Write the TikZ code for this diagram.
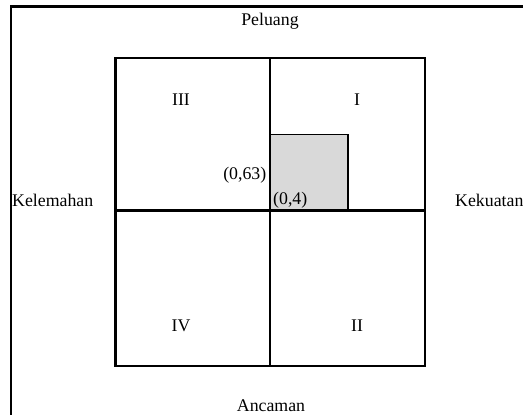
\documentclass[tikz,border=0pt]{standalone}
\usepackage{fontspec}
\setmainfont{Liberation Serif}
\begin{document}
\begin{tikzpicture}[x=1pt,y=-1pt,
  lbl/.style={inner sep=0pt,font=\fontsize{17.8}{21}\selectfont},
  frame/.style={line width=2.2pt},
  grid/.style={line width=2.8pt},
  shade/.style={fill=black!15,draw=black,line width=1.7pt}]
\useasboundingbox (0,0) rectangle (523,415);
\clip (0,0) rectangle (523,415);
\fill[white] (0,0) rectangle (523,415);
% outer frame (extends past right and bottom edges)
\draw[frame] (11,6.5) rectangle (540,430);
% shaded region
\draw[shade] (270,134.5) rectangle (348,210.5);
% quadrant grid
\coordinate (tl) at (115.5,58);
\coordinate (br) at (425,366);
\coordinate (tm) at (270,58);
\coordinate (bm) at (270,366);
\coordinate (ml) at (115.5,210.5);
\coordinate (mr) at (425,210.5);
\draw[grid] (tl) rectangle (br);
\draw[grid] (tm) -- (bm);
\draw[grid] (ml) -- (mr);
% labels
\node[lbl] (pel) at (270,21) {Peluang};
\node[lbl] (anc) at (271,406) {Ancaman};
\node[lbl,anchor=west] (kel) at (12,200) {Kelemahan};
\node[lbl,anchor=west] (kek) at (455,200) {Kekuatan};
\node[lbl] (q3) at (181,100) {III};
\node[lbl] (q1) at (357,100) {I};
\node[lbl] (q4) at (181,326) {IV};
\node[lbl] (q2) at (357,326) {II};
\node[lbl,anchor=east] (p63) at (266.5,175) {(0,63)};
\node[lbl,anchor=west] (p4) at (273,200) {(0,4)};
\end{tikzpicture}
\end{document}
